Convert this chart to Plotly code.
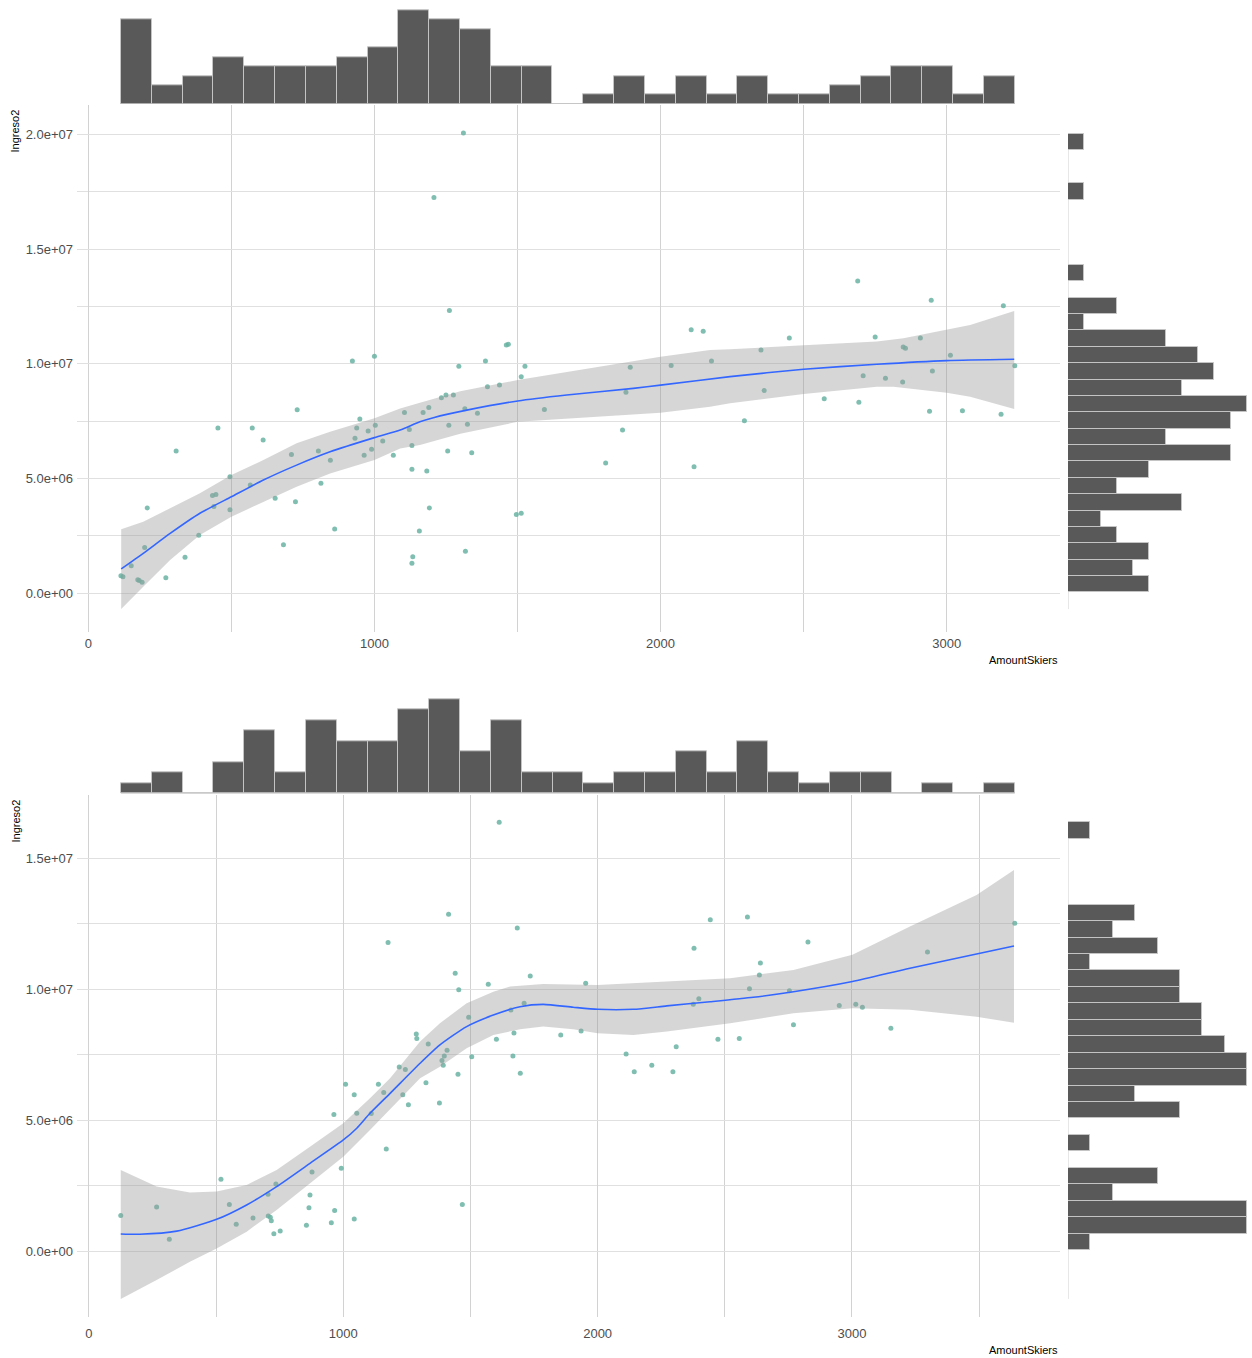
import numpy as np
import plotly.graph_objects as go

W, H = 1252, 1358

# ------------------------------------------------------------------ data (top chart)
top_x = [923, 1000, 730, 453, 573, 611, 307, 949, 938, 978, 1003, 932, 1029, 990, 964, 1066,
         1105, 1122, 1131, 1131, 1157, 1134, 1131, 804, 846, 710, 813, 724, 653, 566, 495, 495,
         434, 446, 439, 386, 338, 271, 861, 682, 206, 197, 150, 114, 121, 178, 188, 173,
         1311, 1208, 1262, 1461, 1468, 1295, 1388, 1526, 1513, 1437, 1395, 1234, 1250, 1276,
         1170, 1190, 1183, 1192, 1316, 1360, 1260, 1325, 1256, 1340, 1318, 1496, 1513, 1594,
         1808, 1867, 1879, 1894, 2037, 2107, 2149, 2178, 2117,
         2293, 2351, 2362, 2450, 2572, 2689, 2693, 2708, 2750, 2786, 2846, 2848, 2856, 2908,
         2940, 2946, 2950, 3013, 3055, 3190, 3198, 3238]
top_y_millions = [10.12, 10.33, 8.0, 7.2, 7.2, 6.68, 6.2, 7.59, 7.2, 7.07, 7.32, 6.75, 6.63, 6.27, 6.01, 6.01,
                  7.88, 7.13, 6.44, 5.40, 2.71, 1.58, 1.30, 6.2, 5.79, 6.04, 4.79, 3.98, 4.14, 4.71, 5.07, 3.63,
                  4.26, 4.30, 3.78, 2.52, 1.56, 0.67, 2.79, 2.11, 3.71, 1.99, 1.19, 0.75, 0.71, 0.55, 0.47, 0.58,
                  20.07, 17.26, 12.33, 10.82, 10.85, 9.89, 10.12, 9.89, 9.44, 9.08, 9.0, 8.52, 8.64, 8.64,
                  7.88, 8.09, 5.32, 3.71, 8.04, 7.84, 7.32, 7.36, 6.2, 6.12, 1.82, 3.43, 3.48, 8.01,
                  5.67, 7.11, 8.76, 9.85, 9.93, 11.49, 11.42, 10.12, 5.51,
                  7.52, 10.6, 8.84, 11.13, 8.48, 13.61, 8.32, 9.48, 11.17, 9.37, 9.21, 10.73, 10.68, 11.13,
                  7.93, 12.77, 9.69, 10.37, 7.95, 7.8, 12.53, 9.92]

top_fit_x = [115, 192, 286, 390, 500, 612, 728, 845, 1000, 1090, 1159, 1206, 1323, 1501, 1672,
             1905, 2000, 2243, 2500, 2756, 3000, 3236]
top_fit_millions = [1.05, 1.73, 2.6, 3.48, 4.2, 4.93, 5.58, 6.16, 6.78, 7.11, 7.47, 7.65, 7.98, 8.38, 8.64,
                    8.93, 9.07, 9.44, 9.76, 9.98, 10.14, 10.2]
top_band_up_x = [115, 192, 286, 390, 500, 612, 728, 845, 1000, 1090, 1159, 1300, 1501, 2000, 2173, 2243,
                 2500, 2756, 2849, 3000, 3082, 3236]
top_band_up_millions = [2.78, 3.11, 3.70, 4.35, 5.15, 5.80, 6.53, 7.04, 7.62, 8.05, 8.3, 8.8, 9.29, 10.31, 10.6,
                        10.63, 10.81, 10.97, 11.11, 11.47, 11.69, 12.3]
top_band_lo_x = [115, 192, 286, 390, 500, 612, 728, 845, 1000, 1090, 1159, 1300, 1501, 2000, 2173, 2243,
                 2500, 2756, 2814, 3000, 3082, 3236]
top_band_lo_millions = [-0.70, 0.27, 1.44, 2.53, 3.33, 3.98, 4.64, 5.22, 5.80, 6.31, 6.46, 6.95, 7.47, 7.87, 8.13,
                        8.28, 8.68, 9.0, 9.0, 8.74, 8.56, 8.03]

top_xhist_counts = [9, 2, 3, 5, 4, 4, 4, 5, 6, 10, 9, 8, 4, 4, 0, 1, 3, 1, 3, 1, 3, 1, 1, 2, 3, 4, 4, 1, 3]
top_xhist_start = 114.3
top_xhist_binwidth = 107.7
top_yhist_counts = [5, 4, 5, 3, 2, 7, 3, 5, 10, 6, 10, 11, 7, 9, 8, 6, 1, 3, 0, 1, 0, 0, 0, 0, 1, 0, 0, 1]
top_yhist_start = 0.03e6
top_yhist_binwidth = 0.714e6

# ------------------------------------------------------------------ data (bottom chart)
bot_x = [125, 266, 316, 519, 552, 579, 645, 704, 735, 705, 713, 717, 727, 752, 855, 865, 869, 877,
         953, 966, 992, 963, 1009, 1043, 1053, 1043, 1110, 1138, 1159, 1169, 1176, 1220, 1244, 1234,
         1256, 1287, 1289,
         1613, 1414, 1684, 1440, 1454, 1570, 1735, 1953, 1711, 1659, 1493, 1334, 1408, 1397, 1388,
         1393, 1451, 1325, 1378, 1505, 1602, 1671, 1667, 1696, 1468, 1855, 1935, 2112, 2144, 2213,
         2296, 2309, 2379, 2443, 2376, 2398, 2473,
         2589, 2827, 2640, 2636, 2597, 2754, 2557, 2770, 2950, 3015, 3041, 3153, 3297, 3640]
bot_y_millions = [1.36, 1.68, 0.45, 2.74, 1.78, 1.02, 1.26, 2.17, 2.56, 1.34, 1.29, 1.16, 0.66, 0.76, 0.98, 1.65,
                  2.14, 3.02, 1.08, 1.55, 3.16, 5.21, 6.37, 5.97, 5.26, 1.22, 5.25, 6.37, 6.05, 3.9, 11.78,
                  7.03, 6.93, 5.97, 5.59, 8.29, 8.12,
                  16.37, 12.86, 12.34, 10.61, 9.98, 10.19, 10.5, 10.23, 9.46, 9.2, 8.93, 7.91, 7.67, 7.45,
                  7.28, 7.09, 6.75, 6.43, 5.65, 7.42, 8.09, 8.33, 7.45, 6.79, 1.78, 8.25, 8.40, 7.52, 6.85,
                  7.09, 6.85, 7.80, 11.56, 12.65, 9.42, 9.63, 8.09,
                  12.76, 11.8, 11.0, 10.54, 10.02, 9.94, 8.12, 8.64, 9.38, 9.42, 9.31, 8.51, 11.42, 12.52]

bot_fit_x = [125, 200, 345, 502, 620, 738, 869, 1000, 1053, 1105, 1184, 1302, 1380, 1485, 1590, 1695,
             1786, 1904, 2000, 2140, 2272, 2442, 2612, 2770, 3002, 3228, 3637]
bot_fit_millions = [0.65, 0.64, 0.76, 1.21, 1.76, 2.46, 3.35, 4.24, 4.69, 5.26, 6.02, 7.17, 7.87, 8.57, 9.01,
                    9.33, 9.42, 9.31, 9.23, 9.23, 9.36, 9.52, 9.69, 9.9, 10.29, 10.8, 11.65]
bot_band_up_x = [125, 266, 397, 502, 620, 738, 869, 1000, 1105, 1184, 1302, 1380, 1485, 1590, 1656, 1786,
                 2000, 2140, 2521, 2770, 3002, 3228, 3490, 3637]
bot_band_up_millions = [3.09, 2.46, 2.23, 2.27, 2.52, 3.09, 3.98, 4.88, 5.83, 6.6, 8.0, 8.70, 9.46, 9.9, 10.1,
                        10.2, 10.16, 10.23, 10.42, 10.73, 11.31, 12.39, 13.6, 14.55]
bot_band_lo_x = [125, 266, 397, 502, 620, 738, 869, 1000, 1105, 1184, 1302, 1380, 1485, 1590, 1695, 1786,
                 1904, 2000, 2140, 2272, 2521, 2770, 3002, 3228, 3490, 3637]
bot_band_lo_millions = [-1.83, -1.11, -0.41, 0.10, 0.74, 1.57, 2.59, 3.60, 4.62, 5.39, 6.6, 7.04, 7.74, 8.25,
                        8.47, 8.57, 8.47, 8.32, 8.25, 8.38, 8.70, 9.08, 9.27, 9.21, 8.95, 8.72]

bot_xhist_counts = [1, 2, 0, 3, 6, 2, 7, 5, 5, 8, 9, 4, 7, 2, 2, 1, 2, 2, 4, 2, 5, 2, 1, 2, 2, 0, 1, 0, 1]
bot_xhist_start = 125.8
bot_xhist_binwidth = 121.2
bot_yhist_counts = [1, 8, 8, 2, 4, 0, 1, 0, 5, 3, 8, 8, 7, 6, 6, 5, 5, 1, 4, 2, 3, 0, 0, 0, 0, 1]
bot_yhist_start = 0.04e6
bot_yhist_binwidth = 0.628e6

# ------------------------------------------------------------------ labels
x_tick_vals = [0, 1000, 2000, 3000]
x_tick_labels = ["0", "1000", "2000", "3000"]
top_y_tick_vals = [0, 5e6, 1e7, 1.5e7, 2e7]
top_y_tick_labels = ["0.0e+00", "5.0e+06", "1.0e+07", "1.5e+07", "2.0e+07"]
bot_y_tick_vals = [0, 5e6, 1e7, 1.5e7]
bot_y_tick_labels = ["0.0e+00", "5.0e+06", "1.0e+07", "1.5e+07"]
x_title = "AmountSkiers"
y_title = "Ingreso2"

# ------------------------------------------------------------------ styles
POINT = "rgba(105,179,162,0.85)"
BAND = "rgba(153,153,153,0.4)"
LINE = "#3366FF"
BAR = "#595959"
BAR_EDGE = "#c4c4c4"
GRID_H = "#e0e0e0"
GRID_V = "#d2d2d2"
TICK_FONT = dict(family="Liberation Sans, Arial, sans-serif", size=13, color="#4d4d4d")
TITLE_FONT = dict(family="Liberation Sans, Arial, sans-serif", size=11, color="#000000")

fig = go.Figure()
layout = dict(width=W, height=H, margin=dict(l=0, r=0, t=0, b=0), autosize=False,
              paper_bgcolor="white", plot_bgcolor="white", showlegend=False,
              bargap=0, annotations=[], shapes=[])


def dom_x(a, b):
    return [a / W, b / W]


def dom_y(top, bottom):
    return [1 - bottom / H, 1 - top / H]


def add_chart(k, xs, ys_m, fx, fy_m, bux, buy_m, blx, bly_m,
              xh_counts, xh_start, xh_w, yh_counts, yh_start, yh_w,
              yticks, ylabels, xrange_, yrange_, main_py, tophist_py, xh_max, yh_max,
              xlabel_standoff, xtitle_y):
    ax_main, ax_top, ax_right = 3 * k + 1, 3 * k + 2, 3 * k + 3
    nm = lambda i: "" if i == 1 else str(i)

    ys = np.array(ys_m) * 1e6
    fy = np.array(fy_m) * 1e6
    buy = np.array(buy_m) * 1e6
    bly = np.array(bly_m) * 1e6

    xa, ya = "x" + nm(ax_main), "y" + nm(ax_main)
    fig.add_trace(go.Scatter(x=xs, y=ys, mode="markers", xaxis=xa, yaxis=ya,
                             marker=dict(color=POINT, size=5, line=dict(width=0))))
    fig.add_trace(go.Scatter(x=list(bux) + list(blx)[::-1], y=list(buy) + list(bly)[::-1],
                             mode="lines", fill="toself", fillcolor=BAND, line=dict(width=0),
                             xaxis=xa, yaxis=ya))
    fig.add_trace(go.Scatter(x=fx, y=fy, mode="lines",
                             line=dict(color=LINE, width=1.6, shape="spline", smoothing=0.6),
                             xaxis=xa, yaxis=ya))

    xc = xh_start + xh_w * (np.arange(len(xh_counts)) + 0.5)
    fig.add_trace(go.Bar(x=xc, y=xh_counts, width=xh_w, xaxis="x" + nm(ax_top), yaxis="y" + nm(ax_top),
                         marker=dict(color=BAR, line=dict(color=BAR_EDGE, width=1))))
    yc = yh_start + yh_w * (np.arange(len(yh_counts)) + 0.5)
    fig.add_trace(go.Bar(y=yc, x=yh_counts, width=yh_w, orientation="h",
                         xaxis="x" + nm(ax_right), yaxis="y" + nm(ax_right),
                         marker=dict(color=BAR, line=dict(color=BAR_EDGE, width=1))))

    layout["shapes"].append(dict(type="line", xref="x" + nm(ax_top), yref="y" + nm(ax_top),
                                 x0=xh_start, x1=xh_start + xh_w * len(xh_counts), y0=0, y1=0,
                                 line=dict(color="#d0d0d0", width=1), layer="below"))
    layout["shapes"].append(dict(type="line", xref="x" + nm(ax_right), yref="y" + nm(ax_right),
                                 x0=0, x1=0, y0=float(min(bly)), y1=yh_start + yh_w * len(yh_counts),
                                 line=dict(color="#d0d0d0", width=1), layer="below"))

    main_dx = dom_x(77, 1060)
    main_dy = dom_y(*main_py)
    layout["xaxis" + nm(ax_main)] = dict(
        domain=main_dx, anchor=ya, range=xrange_, tickvals=x_tick_vals, ticktext=x_tick_labels,
        showgrid=True, gridcolor=GRID_V, gridwidth=1, zeroline=False, showline=False, ticks="",
        tickfont=TICK_FONT, ticklabelstandoff=xlabel_standoff,
        minor=dict(dtick=500, tick0=0, showgrid=True, gridcolor=GRID_V, gridwidth=1),
        fixedrange=True)
    layout["yaxis" + nm(ax_main)] = dict(
        domain=main_dy, anchor=xa, range=yrange_, tickvals=yticks, ticktext=ylabels,
        showgrid=True, gridcolor=GRID_H, gridwidth=1.3, zeroline=False, showline=False, ticks="",
        tickfont=TICK_FONT, ticklabelstandoff=3,
        minor=dict(dtick=2.5e6, tick0=0, showgrid=True, gridcolor=GRID_H, gridwidth=1.3),
        fixedrange=True)
    layout["xaxis" + nm(ax_top)] = dict(
        domain=main_dx, anchor="y" + nm(ax_top), range=xrange_, showgrid=False, zeroline=False,
        showticklabels=False, ticks="outside", ticklen=3, tickcolor="#cfcfcf", dtick=500, tick0=0,
        showline=False)
    layout["yaxis" + nm(ax_top)] = dict(
        domain=dom_y(*tophist_py), anchor="x" + nm(ax_top), range=[0, xh_max], showgrid=False,
        zeroline=False, showticklabels=False, showline=False)
    layout["xaxis" + nm(ax_right)] = dict(
        domain=dom_x(1068, 1252), anchor="y" + nm(ax_right), range=[0, yh_max], showgrid=False,
        zeroline=False, showticklabels=False, showline=False)
    layout["yaxis" + nm(ax_right)] = dict(
        domain=main_dy, anchor="x" + nm(ax_right), range=yrange_, showgrid=False, zeroline=False,
        showticklabels=False, showline=False)

    layout["annotations"].append(dict(text=y_title, xref="paper", yref="paper", x=15 / W,
                                      y=1 - main_py[0] / H, xanchor="center", yanchor="top",
                                      textangle=-90, showarrow=False, font=TITLE_FONT))
    layout["annotations"].append(dict(text=x_title, xref="paper", yref="paper", x=1060 / W,
                                      y=1 - xtitle_y / H, xanchor="right", yanchor="middle",
                                      showarrow=False, font=TITLE_FONT))


add_chart(0, top_x, top_y_millions, top_fit_x, top_fit_millions,
          top_band_up_x, top_band_up_millions, top_band_lo_x, top_band_lo_millions,
          top_xhist_counts, top_xhist_start, top_xhist_binwidth,
          top_yhist_counts, top_yhist_start, top_yhist_binwidth,
          top_y_tick_vals, top_y_tick_labels,
          [-39.5, 3396], [-1.70e6, 21.16e6], (108, 632), (5.3, 104), 10.5, 11.31, 2, 660)

add_chart(1, bot_x, bot_y_millions, bot_fit_x, bot_fit_millions,
          bot_band_up_x, bot_band_up_millions, bot_band_lo_x, bot_band_lo_millions,
          bot_xhist_counts, bot_xhist_start, bot_xhist_binwidth,
          bot_yhist_counts, bot_yhist_start, bot_yhist_binwidth,
          bot_y_tick_vals, bot_y_tick_labels,
          [-47, 3818], [-2.52e6, 17.30e6], (798, 1317), (694.3, 793.7), 9.45, 8.22, 7, 1350)

fig.update_layout(**layout)
fig.write_html("out.html")
